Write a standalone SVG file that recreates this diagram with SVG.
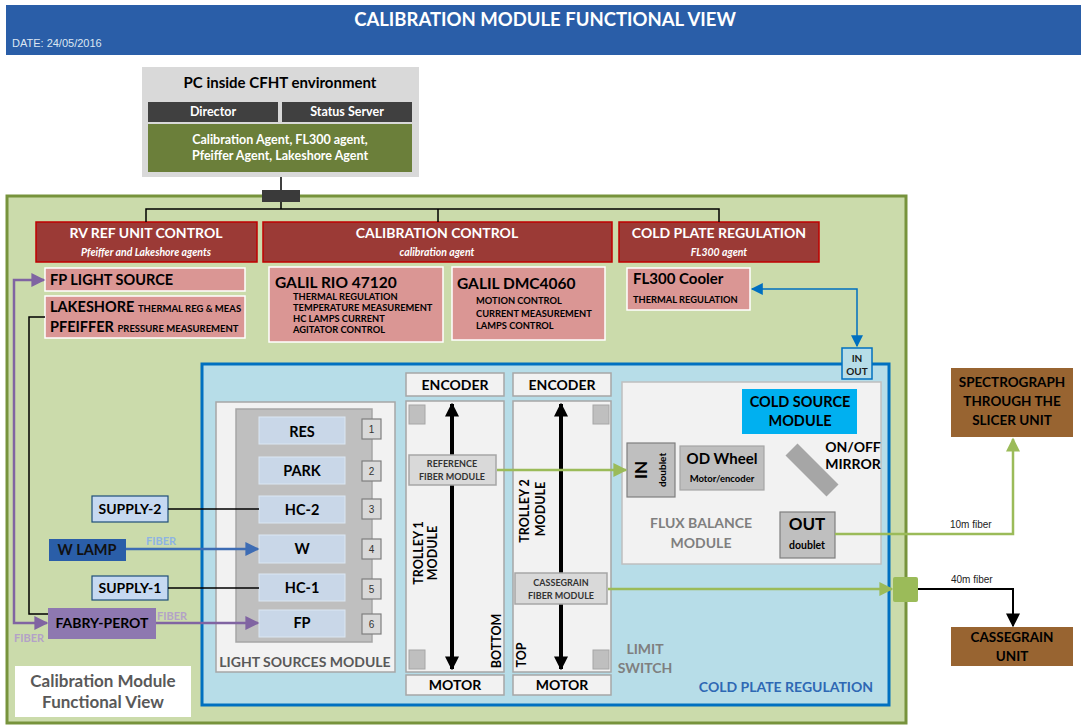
<svg xmlns="http://www.w3.org/2000/svg" width="1081" height="726" viewBox="0 0 1081 726">
<defs>
<style>
text{font-family:Lato,"Open Sans","Noto Sans",sans-serif;font-weight:bold;}
.wt{fill:#fff}
.c{text-anchor:middle}
.red{fill:#9b3a36;stroke:#c00000;stroke-width:1.5}
.pink{fill:#da9694;stroke:#fff;stroke-width:1.5}
.slot{fill:#c9d7e8;stroke:#dbe7f3;stroke-width:1}
.num{fill:#d9d9d9;stroke:#7f7f7f;stroke-width:1.2}
.ltg{fill:#f2f2f2;stroke:#a6a6a6;stroke-width:1.5}
.gsq{fill:#bfbfbf;stroke:#a6a6a6;stroke-width:1}
.fm{fill:#d9d9d9;stroke:#a6a6a6;stroke-width:1.5}
.sup{fill:#c6d9f1;stroke:#1f4e79;stroke-width:1.2}
.brown{fill:#986431}
.arial{font-family:"Liberation Sans",Arial,sans-serif;font-weight:normal}
</style>
<marker id="aBlk" viewBox="0 0 10 10" refX="9" refY="5" markerWidth="14" markerHeight="16" markerUnits="userSpaceOnUse" orient="auto-start-reverse"><path d="M0,0 L10,5 L0,10 z" fill="#000"/></marker>
<marker id="aBlu" viewBox="0 0 10 10" refX="9" refY="5" markerWidth="14" markerHeight="12" markerUnits="userSpaceOnUse" orient="auto-start-reverse"><path d="M0,0 L10,5 L0,10 z" fill="#0070c0"/></marker>
<marker id="aW" viewBox="0 0 10 10" refX="9" refY="5" markerWidth="18" markerHeight="14" markerUnits="userSpaceOnUse" orient="auto"><path d="M0,0 L10,5 L0,10 z" fill="#3d6cb4"/></marker>
<marker id="aP" viewBox="0 0 10 10" refX="9" refY="5" markerWidth="18" markerHeight="14" markerUnits="userSpaceOnUse" orient="auto-start-reverse"><path d="M0,0 L10,5 L0,10 z" fill="#8064a2"/></marker>
<marker id="aG" viewBox="0 0 10 10" refX="9" refY="5" markerWidth="18" markerHeight="14" markerUnits="userSpaceOnUse" orient="auto"><path d="M0,0 L10,5 L0,10 z" fill="#9bbb59"/></marker>
</defs>
<rect width="1081" height="726" fill="#fff"/>

<g id="header">
<rect x="6" y="5" width="1075" height="50" fill="#2a5ea8"/>
<text x="545" y="26" class="wt c" font-size="18.5">CALIBRATION MODULE FUNCTIONAL VIEW</text>
<text x="12" y="47" class="arial" font-size="11" fill="#dce6f2">DATE: 24/05/2016</text>
</g>

<g id="pc">
<rect x="142" y="67" width="277" height="110" fill="#d9d9d9"/>
<text x="280" y="88" class="c" font-size="15" fill="#000">PC inside CFHT environment</text>
<rect x="148" y="102" width="130" height="20" fill="#404040"/>
<text x="213" y="116" class="wt c" font-size="12.5">Director</text>
<rect x="282" y="102" width="130" height="20" fill="#404040"/>
<text x="347" y="116" class="wt c" font-size="12.5">Status Server</text>
<rect x="148" y="124" width="264" height="48" fill="#6b7f3a"/>
<text x="280" y="144" class="wt c" font-size="12.5">Calibration Agent, FL300 agent,</text>
<text x="280" y="160" class="wt c" font-size="12.5">Pfeiffer Agent, Lakeshore Agent</text>
</g>

<g id="outer">
<rect x="7" y="196" width="899" height="527" fill="#cbdbab" stroke="#77933c" stroke-width="3"/>
</g>

<g id="connector-block">
<rect x="262" y="190" width="38" height="12" fill="#3a3a3a"/>
</g>

<g id="rvref">
<rect x="36" y="222" width="221" height="40" class="red"/>
<text x="146" y="238" class="wt c" font-size="14">RV REF UNIT CONTROL</text>
<text x="146" y="256" class="wt c" font-size="10.5" font-style="italic">Pfeiffer and Lakeshore agents</text>
</g>
<g id="calctrl">
<rect x="263" y="222" width="349" height="40" class="red"/>
<text x="437" y="238" class="wt c" font-size="14">CALIBRATION CONTROL</text>
<text x="437" y="256" class="wt c" font-size="10.5" font-style="italic">calibration agent</text>
</g>
<g id="coldplate-ctrl">
<rect x="619" y="222" width="200" height="40" class="red"/>
<text x="719" y="238" class="wt c" font-size="14">COLD PLATE REGULATION</text>
<text x="719" y="256" class="wt c" font-size="10.5" font-style="italic">FL300 agent</text>
</g>

<g id="fplight">
<rect x="45" y="268" width="200" height="23" class="pink"/>
<text x="50" y="285" font-size="14.5">FP LIGHT SOURCE</text>
</g>
<g id="lakeshore">
<rect x="45" y="296" width="200" height="42" class="pink"/>
<text x="50" y="312" font-size="14.5">LAKESHORE <tspan font-size="9.5">THERMAL REG &amp; MEAS</tspan></text>
<text x="50" y="332" font-size="14.5">PFEIFFER <tspan font-size="9.5">PRESSURE MEASUREMENT</tspan></text>
</g>
<g id="galilrio">
<rect x="269" y="267" width="174" height="75" class="pink"/>
<text x="275" y="288" font-size="15.5">GALIL RIO 47120</text>
<text x="293" y="300" font-size="9.3">THERMAL REGULATION</text>
<text x="293" y="311" font-size="9.3">TEMPERATURE MEASUREMENT</text>
<text x="293" y="322" font-size="9.3">HC LAMPS CURRENT</text>
<text x="293" y="333" font-size="9.3">AGITATOR CONTROL</text>
</g>
<g id="galildmc">
<rect x="452" y="267" width="153" height="73" class="pink"/>
<text x="457" y="289" font-size="15.5">GALIL DMC4060</text>
<text x="476" y="304" font-size="9.3">MOTION CONTROL</text>
<text x="476" y="317" font-size="9.3">CURRENT MEASUREMENT</text>
<text x="476" y="329" font-size="9.3">LAMPS CONTROL</text>
</g>
<g id="fl300">
<rect x="627" y="268" width="123" height="42" class="pink"/>
<text x="633" y="284" font-size="15">FL300 Cooler</text>
<text x="633" y="303" font-size="9.3">THERMAL REGULATION</text>
</g>

<g id="coldplate">
<rect x="202" y="364" width="687" height="341" fill="#b7dde8" stroke="#0070c0" stroke-width="3"/>
<text x="786" y="692" class="c" font-size="14" fill="#2e68b4">COLD PLATE REGULATION</text>
</g>
<g id="inout">
<rect x="842" y="348" width="30" height="31" fill="#b7dde8" stroke="#0070c0" stroke-width="1.5"/>
<text x="857" y="362" class="c" font-size="10" fill="#1a1a1a">IN</text>
<text x="857" y="375" class="c" font-size="10" fill="#1a1a1a">OUT</text>
</g>

<g id="lightsources">
<rect x="216" y="402" width="179" height="270" class="ltg"/>
<rect x="236" y="409" width="136" height="233" fill="#bfbfbf" stroke="#a6a6a6" stroke-width="1.5"/>
<text x="305" y="667" class="c" font-size="14" fill="#595959">LIGHT SOURCES MODULE</text>
<rect x="259" y="417" width="86" height="27" class="slot"/><text x="302" y="437" class="c" font-size="14.5">RES</text>
<rect x="259" y="457" width="86" height="27" class="slot"/><text x="302" y="476" class="c" font-size="14.5">PARK</text>
<rect x="259" y="496" width="86" height="27" class="slot"/><text x="302" y="515" class="c" font-size="14.5">HC-2</text>
<rect x="259" y="535" width="86" height="28" class="slot"/><text x="302" y="554" class="c" font-size="14.5">W</text>
<rect x="259" y="574" width="86" height="27" class="slot"/><text x="302" y="593" class="c" font-size="14.5">HC-1</text>
<rect x="259" y="610" width="86" height="27" class="slot"/><text x="302" y="628" class="c" font-size="14.5">FP</text>
<rect x="362" y="419" width="19" height="20" class="num"/><text x="371.5" y="433" class="c arial" font-size="10" fill="#333">1</text>
<rect x="362" y="461" width="19" height="20" class="num"/><text x="371.5" y="475" class="c arial" font-size="10" fill="#333">2</text>
<rect x="362" y="499" width="19" height="20" class="num"/><text x="371.5" y="513" class="c arial" font-size="10" fill="#333">3</text>
<rect x="362" y="539" width="19" height="20" class="num"/><text x="371.5" y="553" class="c arial" font-size="10" fill="#333">4</text>
<rect x="362" y="579" width="19" height="20" class="num"/><text x="371.5" y="593" class="c arial" font-size="10" fill="#333">5</text>
<rect x="362" y="614" width="19" height="20" class="num"/><text x="371.5" y="628" class="c arial" font-size="10" fill="#333">6</text>
</g>

<g id="supply2">
<rect x="92" y="496" width="76" height="26" class="sup"/>
<text x="130" y="514" class="c" font-size="14">SUPPLY-2</text>
</g>
<g id="wlamp">
<rect x="49" y="539" width="77" height="22" fill="#2a5ea8"/>
<text x="87" y="555" class="c" font-size="14.5" fill="#111">W LAMP</text>
</g>
<g id="supply1">
<rect x="92" y="576" width="76" height="24" class="sup"/>
<text x="130" y="593" class="c" font-size="14">SUPPLY-1</text>
</g>
<g id="fabryperot">
<rect x="48" y="608" width="108" height="31" fill="#8e78b0"/>
<text x="102" y="628" class="c" font-size="14">FABRY-PEROT</text>
</g>

<g id="trolley1">
<rect x="406" y="373" width="98" height="23" class="ltg"/>
<text x="455" y="390" class="c" font-size="14">ENCODER</text>
<rect x="406" y="401" width="98" height="271" class="ltg"/>
<rect x="406" y="675" width="98" height="20" class="ltg"/>
<text x="455" y="690" class="c" font-size="14">MOTOR</text>
<rect x="409" y="405" width="16" height="19" class="gsq"/>
<rect x="409" y="650" width="16" height="19" class="gsq"/>
<text transform="translate(423,553) rotate(-90)" class="c" font-size="12.5">TROLLEY 1</text>
<text transform="translate(437,553) rotate(-90)" class="c" font-size="12.5">MODULE</text>
<text transform="translate(501,641) rotate(-90)" class="c" font-size="12.5">BOTTOM</text>
</g>
<g id="trolley2">
<rect x="513" y="373" width="98" height="23" class="ltg"/>
<text x="562" y="390" class="c" font-size="14">ENCODER</text>
<rect x="513" y="401" width="98" height="271" class="ltg"/>
<rect x="513" y="675" width="98" height="20" class="ltg"/>
<text x="562" y="690" class="c" font-size="14">MOTOR</text>
<rect x="593" y="405" width="16" height="19" class="gsq"/>
<rect x="593" y="650" width="16" height="19" class="gsq"/>
<text transform="translate(529,511) rotate(-90)" class="c" font-size="12.5">TROLLEY 2</text>
<text transform="translate(545,509) rotate(-90)" class="c" font-size="12.5">MODULE</text>
<text transform="translate(526,655) rotate(-90)" class="c" font-size="12.5">TOP</text>
</g>
<g id="trolley-arrows">
<line x1="452" y1="404" x2="452" y2="669" stroke="#000" stroke-width="4" marker-start="url(#aBlk)" marker-end="url(#aBlk)"/>
<line x1="561" y1="404" x2="561" y2="669" stroke="#000" stroke-width="4" marker-start="url(#aBlk)" marker-end="url(#aBlk)"/>
</g>
<g id="reffiber">
<rect x="409" y="455" width="87" height="30" class="fm"/>
<text x="452" y="467" class="c" font-size="9" fill="#333">REFERENCE</text>
<text x="452" y="480" class="c" font-size="9" fill="#333">FIBER MODULE</text>
</g>
<g id="cassfiber">
<rect x="515" y="573" width="92" height="31" class="fm"/>
<text x="561" y="586" class="c" font-size="9" fill="#333">CASSEGRAIN</text>
<text x="561" y="599" class="c" font-size="9" fill="#333">FIBER MODULE</text>
</g>
<g id="limitswitch">
<text x="645" y="654" class="c" font-size="14" fill="#7f7f7f">LIMIT</text>
<text x="645" y="673" class="c" font-size="14" fill="#7f7f7f">SWITCH</text>
</g>

<g id="fluxbalance">
<rect x="622" y="382" width="259" height="182" fill="#f2f2f2" stroke="#bfbfbf" stroke-width="1.5"/>
<text x="701" y="528" class="c" font-size="14" fill="#7f7f7f">FLUX BALANCE</text>
<text x="701" y="548" class="c" font-size="14" fill="#7f7f7f">MODULE</text>
</g>
<g id="coldsource">
<rect x="742" y="389" width="115" height="45" fill="#00b0f0"/>
<text x="800" y="407" class="c" font-size="14.5">COLD SOURCE</text>
<text x="800" y="426" class="c" font-size="14.5">MODULE</text>
</g>
<g id="mirror">
<rect x="783" y="461.5" width="58" height="17" fill="#a6a6a6" transform="rotate(45 812 470)"/>
<text x="853" y="452" class="c" font-size="14">ON/OFF</text>
<text x="853" y="469" class="c" font-size="14">MIRROR</text>
</g>
<g id="indoublet">
<rect x="627" y="443" width="48" height="54" fill="#bfbfbf" stroke="#7f7f7f" stroke-width="1.2"/>
<text transform="translate(647,470) rotate(-90)" class="c" font-size="17">IN</text>
<text transform="translate(666,470) rotate(-90)" class="c" font-size="10">doublet</text>
</g>
<g id="odwheel">
<rect x="680" y="446" width="84" height="44" fill="#bfbfbf" stroke="#a6a6a6" stroke-width="1.2"/>
<text x="722" y="464" class="c" font-size="15">OD Wheel</text>
<text x="722" y="482" class="c" font-size="9.5">Motor/encoder</text>
</g>
<g id="outdoublet">
<rect x="780" y="512" width="55" height="46" fill="#bfbfbf" stroke="#7f7f7f" stroke-width="1.2"/>
<text x="807" y="530" class="c" font-size="17">OUT</text>
<text x="807" y="549" class="c" font-size="10.5">doublet</text>
</g>

<g id="greensq">
<rect x="893" y="577" width="25" height="25" rx="2" fill="#9bbb59"/>
</g>
<g id="spectrograph">
<rect x="951" y="368" width="122" height="69" class="brown"/>
<text x="1012" y="387" class="c" font-size="13.5">SPECTROGRAPH</text>
<text x="1012" y="406" class="c" font-size="13.5">THROUGH THE</text>
<text x="1012" y="425" class="c" font-size="13.5">SLICER UNIT</text>
</g>
<g id="cassegrain">
<rect x="951" y="627" width="122" height="39" class="brown"/>
<text x="1012" y="642" class="c" font-size="13.5">CASSEGRAIN</text>
<text x="1012" y="661" class="c" font-size="13.5">UNIT</text>
</g>
<g id="caption">
<rect x="15" y="666" width="176" height="51" fill="#fff"/>
<text x="103" y="687" class="c" font-size="17" fill="#595959">Calibration Module</text>
<text x="103" y="708" class="c" font-size="17" fill="#595959">Functional View</text>
</g>

<g id="connectors" fill="none">
<line x1="281" y1="177" x2="281" y2="190" stroke="#000" stroke-width="1.5"/>
<path d="M281,202 V209 M146,222 V209 H719 V222 M438,209 V222" stroke="#000" stroke-width="1.5"/>
<path d="M752,289 H857 V346" stroke="#0070c0" stroke-width="1.5" marker-start="url(#aBlu)" marker-end="url(#aBlu)"/>
<path d="M168,509 H259" stroke="#000" stroke-width="1.5"/>
<path d="M168,588 H259" stroke="#000" stroke-width="1.5"/>
<path d="M126,549 H258" stroke="#3d6cb4" stroke-width="2.5" marker-end="url(#aW)"/>
<path d="M156,623 H258" stroke="#8064a2" stroke-width="2.5" marker-end="url(#aP)"/>
<path d="M44,280 H14 V623 H47" stroke="#8064a2" stroke-width="2.5" marker-start="url(#aP)" marker-end="url(#aP)"/>
<path d="M45,317 H29 V614 H48" stroke="#000" stroke-width="1.5"/>
<path d="M497,470 H626" stroke="#9bbb59" stroke-width="2.5" marker-end="url(#aG)"/>
<path d="M608,589 H892" stroke="#9bbb59" stroke-width="2.5" marker-end="url(#aG)"/>
<path d="M835,534 H1013 V439" stroke="#9bbb59" stroke-width="2.5" marker-end="url(#aG)"/>
<path d="M918,589 H1013 V626" stroke="#000" stroke-width="2" marker-end="url(#aBlk)"/>
</g>
<g id="labels">
<text x="146" y="545" font-size="11" fill="#8eb4e3">FIBER</text>
<text x="157" y="620" font-size="11" fill="#b3a2c7">FIBER</text>
<text x="14" y="642" font-size="11" fill="#b3a2c7">FIBER</text>
<text x="950" y="528" class="arial" font-size="10" fill="#222">10m fiber</text>
<text x="951" y="583" class="arial" font-size="10" fill="#222">40m fiber</text>
</g>
</svg>
